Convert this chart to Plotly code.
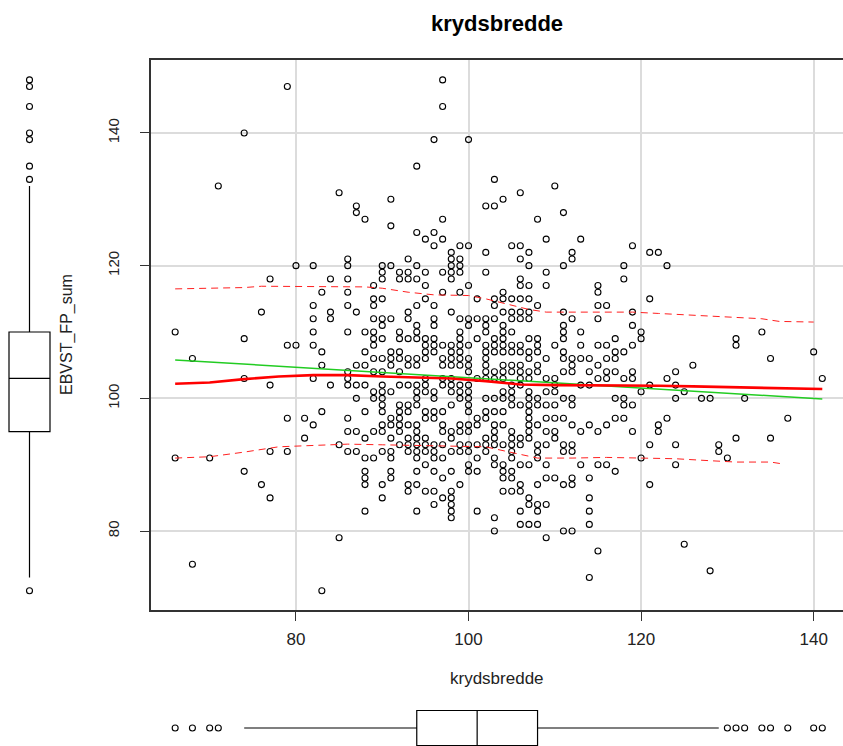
import plotly.graph_objects as go

title_text = "krydsbredde"
x_label = "krydsbredde"
y_label = "EBVST_FP_sum"
tick_values_x = [80, 100, 120, 140]
tick_values_y = [80, 100, 120, 140]

y_levels = [148,147,144,140,139,135,133,132,131,130,129,128,127,126,125,124,123,122,121,120,119,118,117,116,115,114,113,112,111,110,
            109,108,107,106,105,104,103,102,101,100,99,98,97,96,95,94,93,92,91,90,89,88,87,86,85,84,83,82,81,80,79,78,77,75,74,73,71]
x_by_level = [
 [97],[79],[97],[74],[96,100],[94],[103],[71,110],[85,106],[91,104],[87,102,103],[87,111],[88,97,108],[91],[94,96],
 [95,97,109,113],[96,99,100,105,106,119],[98,102,107,112,121,122],[86,93,98,99,106,112],
 [80,82,86,90,91,94,98,99,107,111,118,123],[90,92,93,95,97,98,99,102,109],[77,84,86,90,92,93,94,98,106,118],
 [89,95,100,106,107,109,115],[83,86,97,99,104,115],[89,90,95,101,103,104,105,106,107,121],[82,86,89,94,96,103,108,115,116],
 [76,84,87,93,98,104,105,106,107,111,119],[82,84,89,90,91,93,96,99,100,101,102,103,105,106,107,112,115],
 [90,94,96,100,102,104,111,119],[66,82,86,88,89,92,94,99,102,104,105,111,113,120,134],
 [74,89,90,92,93,94,95,96,99,101,103,104,107,108,111,117,120,131],
 [79,80,82,89,95,96,97,98,99,100,102,103,104,105,106,108,110,113,115,116,119,131],
 [83,88,91,92,95,96,98,99,102,103,104,105,106,107,108,111,117,118,140],
 [68,89,90,91,92,93,94,95,97,98,99,100,102,107,109,111,112,113,114,116,117,135],
 [83,87,88,91,93,94,97,98,99,100,102,104,105,106,108,112,115,126],
 [86,89,90,92,100,102,103,104,105,106,107,108,111,112,114,116,117,119,124],
 [74,82,86,95,97,98,101,102,103,104,106,107,109,110,115,116,118,119,123,141],
 [77,84,86,87,88,90,92,93,94,95,97,98,99,100,105,106,110,113,114,121,124],
 [89,90,91,94,95,96,98,99,100,104,105,107,109,110,120,125],
 [87,89,90,94,96,99,100,102,103,104,105,107,108,111,112,117,118,124,127,128,132],
 [90,92,93,94,98,100,105,106,107,108,109,110,112,118,119],
 [83,88,90,92,93,95,96,97,100,102,103,104,107],
 [79,81,86,91,92,95,96,101,102,107,109,110,111,117,118,123,137],
 [82,90,91,92,93,94,97,99,100,101,103,104,107,108,112,114,116,122],
 [86,87,89,90,92,94,97,98,99,100,103,105,107,109,110,113,115,119,122],
 [81,88,91,93,94,95,98,102,103,105,106,107,110,131,135],
 [85,92,93,94,95,96,97,99,100,101,102,103,104,105,106,108,109,111,112,121,124,129],
 [77,79,86,87,90,91,93,94,95,96,98,99,100,102,105,108,111,112,129],
 [66,70,88,89,91,94,96,97,101,103,105,108,120,130],
 [95,100,103,104,106,107,109,113,115,116,124],
 [74,88,91,94,96,98,100,101,104,105,117],
 [88,91,97,104,105,109,110,112,114],
 [76,88,90,93,94,99,106,108,111,112,121],
 [93,95,96,98,104,105,106],
 [77,90,97,98,107,114],
 [96,98,107,108,109],
 [88,94,98,101,106,108,114],
 [98,103],
 [106,107,108,114],
 [103,111,112],
 [85,109],[125],[115],[68],[128],[114],[83],
]

fit_x = [66, 141]
fit_y = [105.8, 99.9]

smooth_x = [66,70,74,78,82,86,90,94,98,102,106,110,114,118,122,126,130,134,141]
smooth_y = [102.2,102.4,102.9,103.3,103.5,103.5,103.3,103.1,103.0,102.6,102.1,102.0,102.0,101.9,101.9,101.8,101.7,101.5,101.4]

upper_x = [66,70,74,76,80,84,88,90,93,96,100,102,103,105,107,109,112,116,119,122,125,128,131,134,136,140]
upper_y = [116.5,116.6,116.7,116.9,116.9,116.8,116.8,116.6,116.0,115.6,115.5,115.0,114.7,114.0,113.4,113.0,113.0,113.0,113.0,112.8,112.6,112.4,112.2,112.0,111.6,111.5]

lower_x = [66,70,74,78,82,86,90,94,98,102,103,105,108,112,116,120,124,128,131,135,136.5]
lower_y = [91.0,91.2,91.9,92.7,92.9,93.1,93.0,92.9,92.7,92.7,92.4,91.8,91.0,91.0,91.1,91.0,90.9,90.6,90.4,90.4,90.1]

y_box_stats = dict(q1=95, med=103, q3=110, lo=73, hi=132)
y_box_outliers = [148,147,144,140,139,135,133,71]
x_box_stats = dict(q1=94, med=101, q3=108, lo=74, hi=129)
x_box_outliers = [66,68,70,71,130,131,132,134,135,137,140,141]

W, H = 843, 746
INK = "#000000"
XR = [63.2, 143.4]
YR = [68.1, 151.0]
xs, ys = [], []
for level, row in zip(y_levels, x_by_level):
    for v in row:
        xs.append(v)
        ys.append(level)

open_marker = dict(symbol="circle-open", size=6, color=INK, line=dict(width=1.1, color=INK))

fig = go.Figure()
fig.add_trace(go.Scatter(x=xs, y=ys, mode="markers", marker=open_marker))
fig.add_trace(go.Scatter(x=fit_x, y=fit_y, mode="lines", line=dict(color="#22cc22", width=1.5)))
fig.add_trace(go.Scatter(x=smooth_x, y=smooth_y, mode="lines", line=dict(color="#ff0000", width=2.6)))
dash = dict(color="#ff2020", width=1, dash="7px,5px")
fig.add_trace(go.Scatter(x=upper_x, y=upper_y, mode="lines", line=dash))
fig.add_trace(go.Scatter(x=lower_x, y=lower_y, mode="lines", line=dash))

fig.add_trace(go.Box(x=[29.5], xaxis="x2", yaxis="y3",
                     q1=[y_box_stats["q1"]], median=[y_box_stats["med"]], q3=[y_box_stats["q3"]],
                     lowerfence=[y_box_stats["lo"]], upperfence=[y_box_stats["hi"]],
                     width=41, whiskerwidth=0, boxpoints=False,
                     line=dict(color=INK, width=1.2), fillcolor="rgba(255,255,255,0)"))
fig.add_trace(go.Scatter(x=[29.5] * len(y_box_outliers), y=y_box_outliers, xaxis="x2", yaxis="y3",
                         mode="markers", marker=open_marker))

fig.add_trace(go.Box(y=[18], xaxis="x3", yaxis="y2", orientation="h",
                     q1=[x_box_stats["q1"]], median=[x_box_stats["med"]], q3=[x_box_stats["q3"]],
                     lowerfence=[x_box_stats["lo"]], upperfence=[x_box_stats["hi"]],
                     width=35, whiskerwidth=0, boxpoints=False,
                     line=dict(color=INK, width=1.2), fillcolor="rgba(255,255,255,0)"))
fig.add_trace(go.Scatter(x=x_box_outliers, y=[18] * len(x_box_outliers), xaxis="x3", yaxis="y2",
                         mode="markers", marker=open_marker))

FONT = "Liberation Sans"
dom_x = [151 / W, 1]
dom_y = [(H - 610) / H, (H - 60) / H]
anno = dict(xref="paper", yref="paper", showarrow=False, xanchor="center", yanchor="middle")
fig.update_layout(
    width=W, height=H, showlegend=False, paper_bgcolor="white", plot_bgcolor="white",
    margin=dict(l=0, r=0, t=0, b=0), font=dict(family=FONT),
    xaxis=dict(domain=dom_x, range=XR, anchor="y", tickmode="array", tickvals=tick_values_x,
               ticks="outside", ticklen=9, tickcolor="#333333",
               tickfont=dict(family=FONT, size=17, color="#222222"), ticklabelstandoff=4,
               showgrid=True, gridcolor="#dcdcdc", gridwidth=2, zeroline=False,
               showline=True, linecolor="#333333", linewidth=1.5, mirror=True),
    yaxis=dict(domain=dom_y, range=YR, anchor="x", tickmode="array", tickvals=tick_values_y,
               ticks="outside", ticklen=9, tickcolor="#333333",
               tickfont=dict(family=FONT, size=15, color="#222222"), tickangle=-90, ticklabelstandoff=15,
               showgrid=True, gridcolor="#dcdcdc", gridwidth=1.5, zeroline=False,
               showline=True, linecolor="#333333", linewidth=1.5),
    xaxis2=dict(domain=[0, 70 / W], range=[0, 70], anchor="y3", visible=False),
    yaxis3=dict(domain=dom_y, range=YR, anchor="x2", visible=False),
    xaxis3=dict(domain=dom_x, range=XR, anchor="y2", visible=False),
    yaxis2=dict(domain=[0, 50 / H], range=[0, 50], anchor="x3", visible=False),
    annotations=[
        dict(text=f"<b>{title_text}</b>", x=497 / W, y=1 - 23 / H,
             font=dict(family=FONT, size=22, color="#000000"), **anno),
        dict(text=x_label, x=497 / W, y=1 - 678 / H,
             font=dict(family=FONT, size=17, color="#222222"), **anno),
        dict(text=y_label, x=67 / W, y=1 - 335 / H, textangle=-90,
             font=dict(family=FONT, size=16, color="#222222"), **anno),
    ],
)
fig.write_html("out.html", config={"displayModeBar": False}, post_script="document.body.style.margin='0';")
